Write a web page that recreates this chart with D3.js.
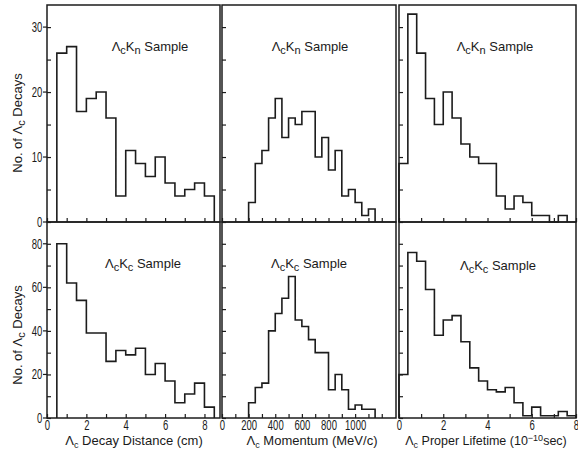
<!DOCTYPE html>
<html>
<head>
<meta charset="utf-8">
<script src="https://cdn.jsdelivr.net/npm/d3@7"></script>
<style>
body { margin: 0; background: #fff; }
svg { display: block; }
text { font-family: "Liberation Sans", Arial, sans-serif; fill: #1a1a1a; }
</style>
</head>
<body>
<script>
// bin edges
const distEdges = [0.5, 1, 1.5, 2, 2.5, 3, 3.5, 4, 4.5, 5, 5.5, 6, 6.5, 7, 7.5, 8, 8.5];
const momEdges = [200, 250, 300, 350, 400, 450, 500, 550, 600, 650, 700, 750, 800, 850, 900, 950, 1000, 1050, 1100, 1150];
const lifeEdges = [0, 0.4, 0.8, 1.2, 1.6, 2, 2.4, 2.8, 3.2, 3.6, 4, 4.4, 4.8, 5.2, 5.6, 6, 6.4, 6.8, 7.2, 7.6, 8];

// counts, Lambda_c K_n sample
const knDist = [26, 27, 17, 19, 20, 16, 4, 11, 9, 7, 10, 6, 4, 5, 6, 4];
const knMom = [3, 9, 11, 16, 19, 13, 16, 15, 17, 17, 10, 13, 8, 11, 4, 5, 3, 1, 2];
const knLife = [9, 32, 26, 19, 15, 20, 16, 12, 10, 9, 9, 4, 2, 4, 3, 1, 1, 0, 1];

// counts, Lambda_c K_c sample
const kcDist = [80, 62, 54, 39, 39, 26, 31, 29, 32, 20, 25, 17, 7, 11, 16, 5];
const kcMom = [7, 14, 16, 40, 48, 55, 65, 45, 42, 36, 30, 30, 13, 20, 13, 4, 6, 4, 4];
const kcLife = [20, 76, 72, 59, 38, 45, 47, 35, 23, 17, 13, 12, 14, 7, 1, 5, 1, 1, 3, 1];

// axis ticks
const distTicks = [0, 1, 2, 3, 4, 5, 6, 7, 8];
const distLabels = [0, 2, 4, 6, 8];
const momTicks = [0, 100, 200, 300, 400, 500, 600, 700, 800, 900, 1000, 1100, 1200];
const momLabels = [0, 200, 400, 600, 800, 1000];
const lifeTicks = [0, 1, 2, 3, 4, 5, 6, 7, 8];
const lifeLabels = [0, 2, 4, 6, 8];
const knYTicks = [0, 5, 10, 15, 20, 25, 30];
const knYLabels = [0, 10, 20, 30];
const kcYTicks = [0, 10, 20, 30, 40, 50, 60, 70, 80];
const kcYLabels = [0, 20, 40, 60, 80];

const width = 578, height = 456;
const ink = "#1c1c1c";
const narrow = "scale(0.68,1)";

const svg = d3.select("body").append("svg")
    .attr("width", width)
    .attr("height", height);

const cols = [
  {x: d3.scaleLinear().domain([0, 8.79]).range([47, 220]), edges: distEdges, ticks: distTicks, labels: distLabels},
  {x: d3.scaleLinear().domain([0, 1307]).range([222, 396]), edges: momEdges, ticks: momTicks, labels: momLabels},
  {x: d3.scaleLinear().domain([0, 8]).range([399, 576]), edges: lifeEdges, ticks: lifeTicks, labels: lifeLabels}
];
const rows = [
  {y: d3.scaleLinear().domain([0, 33.4]).range([222, 5]), data: [knDist, knMom, knLife], ticks: knYTicks, labels: knYLabels, sub: "n"},
  {y: d3.scaleLinear().domain([0, 90]).range([418, 222]), data: [kcDist, kcMom, kcLife], ticks: kcYTicks, labels: kcYLabels, sub: "c"}
];
const titlePos = [[[150, 51], [310, 51], [495, 51]], [[143, 268], [309, 268], [498, 270]]];

function histPoints(edges, counts) {
  const pts = [[edges[0], 0]];
  counts.forEach((c, i) => pts.push([edges[i], c]));
  pts.push([edges[counts.length], 0]);
  return pts;
}

rows.forEach((row, ri) => {
  cols.forEach((col, ci) => {
    const x = col.x, y = row.y;
    const g = svg.append("g");

    // frame
    g.append("rect")
        .attr("x", x.range()[0]).attr("y", y.range()[1])
        .attr("width", x.range()[1] - x.range()[0])
        .attr("height", y.range()[0] - y.range()[1])
        .attr("fill", "none").attr("stroke", ink).attr("stroke-width", 1.5);

    // x axis (ticks pointing in)
    const xa = g.append("g")
        .attr("transform", `translate(0,${y.range()[0]})`)
        .call(d3.axisBottom(x).tickValues(col.ticks).tickSizeInner(-4).tickSizeOuter(0).tickPadding(2)
          .tickFormat(d => (ri === 1 && col.labels.includes(d)) ? d : ""));
    xa.select(".domain").remove();
    xa.selectAll("line").attr("stroke", ink).attr("stroke-width", 1.2);
    xa.selectAll("text")
        .attr("font-size", 14).attr("fill", ink)
        .attr("font-family", "Liberation Sans, sans-serif")
        .attr("transform", narrow);

    // y axis
    const ya = g.append("g")
        .attr("transform", `translate(${x.range()[0]},0)`)
        .call(d3.axisRight(y).tickValues(row.ticks).tickSizeInner(4).tickSizeOuter(0)
          .tickFormat(""));
    ya.select(".domain").remove();
    ya.selectAll("line").attr("stroke", ink).attr("stroke-width", 1.2);
    if (ci === 0) {
      const lab = g.append("g").selectAll("g")
        .data(row.labels)
        .join("g")
          .attr("transform", d => `translate(${x.range()[0]},${y(d)})`);
      lab.append("line")
          .attr("x1", -4).attr("x2", 0)
          .attr("stroke", ink).attr("stroke-width", 1.2);
      lab.append("text")
          .attr("x", -7)
          .attr("dy", "0.36em")
          .attr("text-anchor", "end")
          .attr("font-size", 14)
          .attr("transform", narrow)
          .text(d => d);
    }

    // histogram
    const line = d3.line()
        .x(d => x(d[0]))
        .y(d => y(d[1]))
        .curve(d3.curveStepAfter);
    g.append("path")
        .attr("d", line(histPoints(col.edges, row.data[ci])))
        .attr("fill", "none")
        .attr("stroke", ink)
        .attr("stroke-width", 1.6);

    // sample label
    const [tx, ty] = titlePos[ri][ci];
    const t = g.append("text")
        .attr("x", tx).attr("y", ty)
        .attr("text-anchor", "middle")
        .attr("font-size", 13);
    t.append("tspan").text("Λ");
    t.append("tspan").attr("dy", 3).attr("font-size", 11).text("c");
    t.append("tspan").attr("dy", -3).text("K");
    t.append("tspan").attr("dy", 3).attr("font-size", 11).text(row.sub);
    t.append("tspan").attr("dy", -3).text("  Sample");
  });

  // y title
  const yt = svg.append("text")
      .attr("transform", `translate(22,${ri === 0 ? 123 : 335}) rotate(-90)`)
      .attr("text-anchor", "middle")
      .attr("font-size", 13);
  yt.append("tspan").text("No. of Λ");
  yt.append("tspan").attr("dy", 3).attr("font-size", 11).text("c");
  yt.append("tspan").attr("dy", -3).text(" Decays");
});

// x titles
const xTitles = [
  {x: 134, size: 13, parts: [["Λ", 0], ["c", 1], [" Decay Distance (cm)", 0]]},
  {x: 312, size: 13, parts: [["Λ", 0], ["c", 1], [" Momentum (MeV/c)", 0]]},
  {x: 486, size: 12.5, parts: [["Λ", 0], ["c", 1], [" Proper Lifetime (10", 0], ["−10", -1], ["sec)", 0]]}
];
xTitles.forEach(tt => {
  const t = svg.append("text")
      .attr("x", tt.x).attr("y", 445)
      .attr("text-anchor", "middle")
      .attr("font-size", tt.size);
  let shift = 0;
  tt.parts.forEach(([s, k]) => {
    const target = k === 1 ? 3 : k === -1 ? -4 : 0;
    t.append("tspan")
        .attr("dy", target - shift)
        .attr("font-size", k === 0 ? tt.size : 9)
        .text(s);
    shift = target;
  });
});
</script>
</body>
</html>
